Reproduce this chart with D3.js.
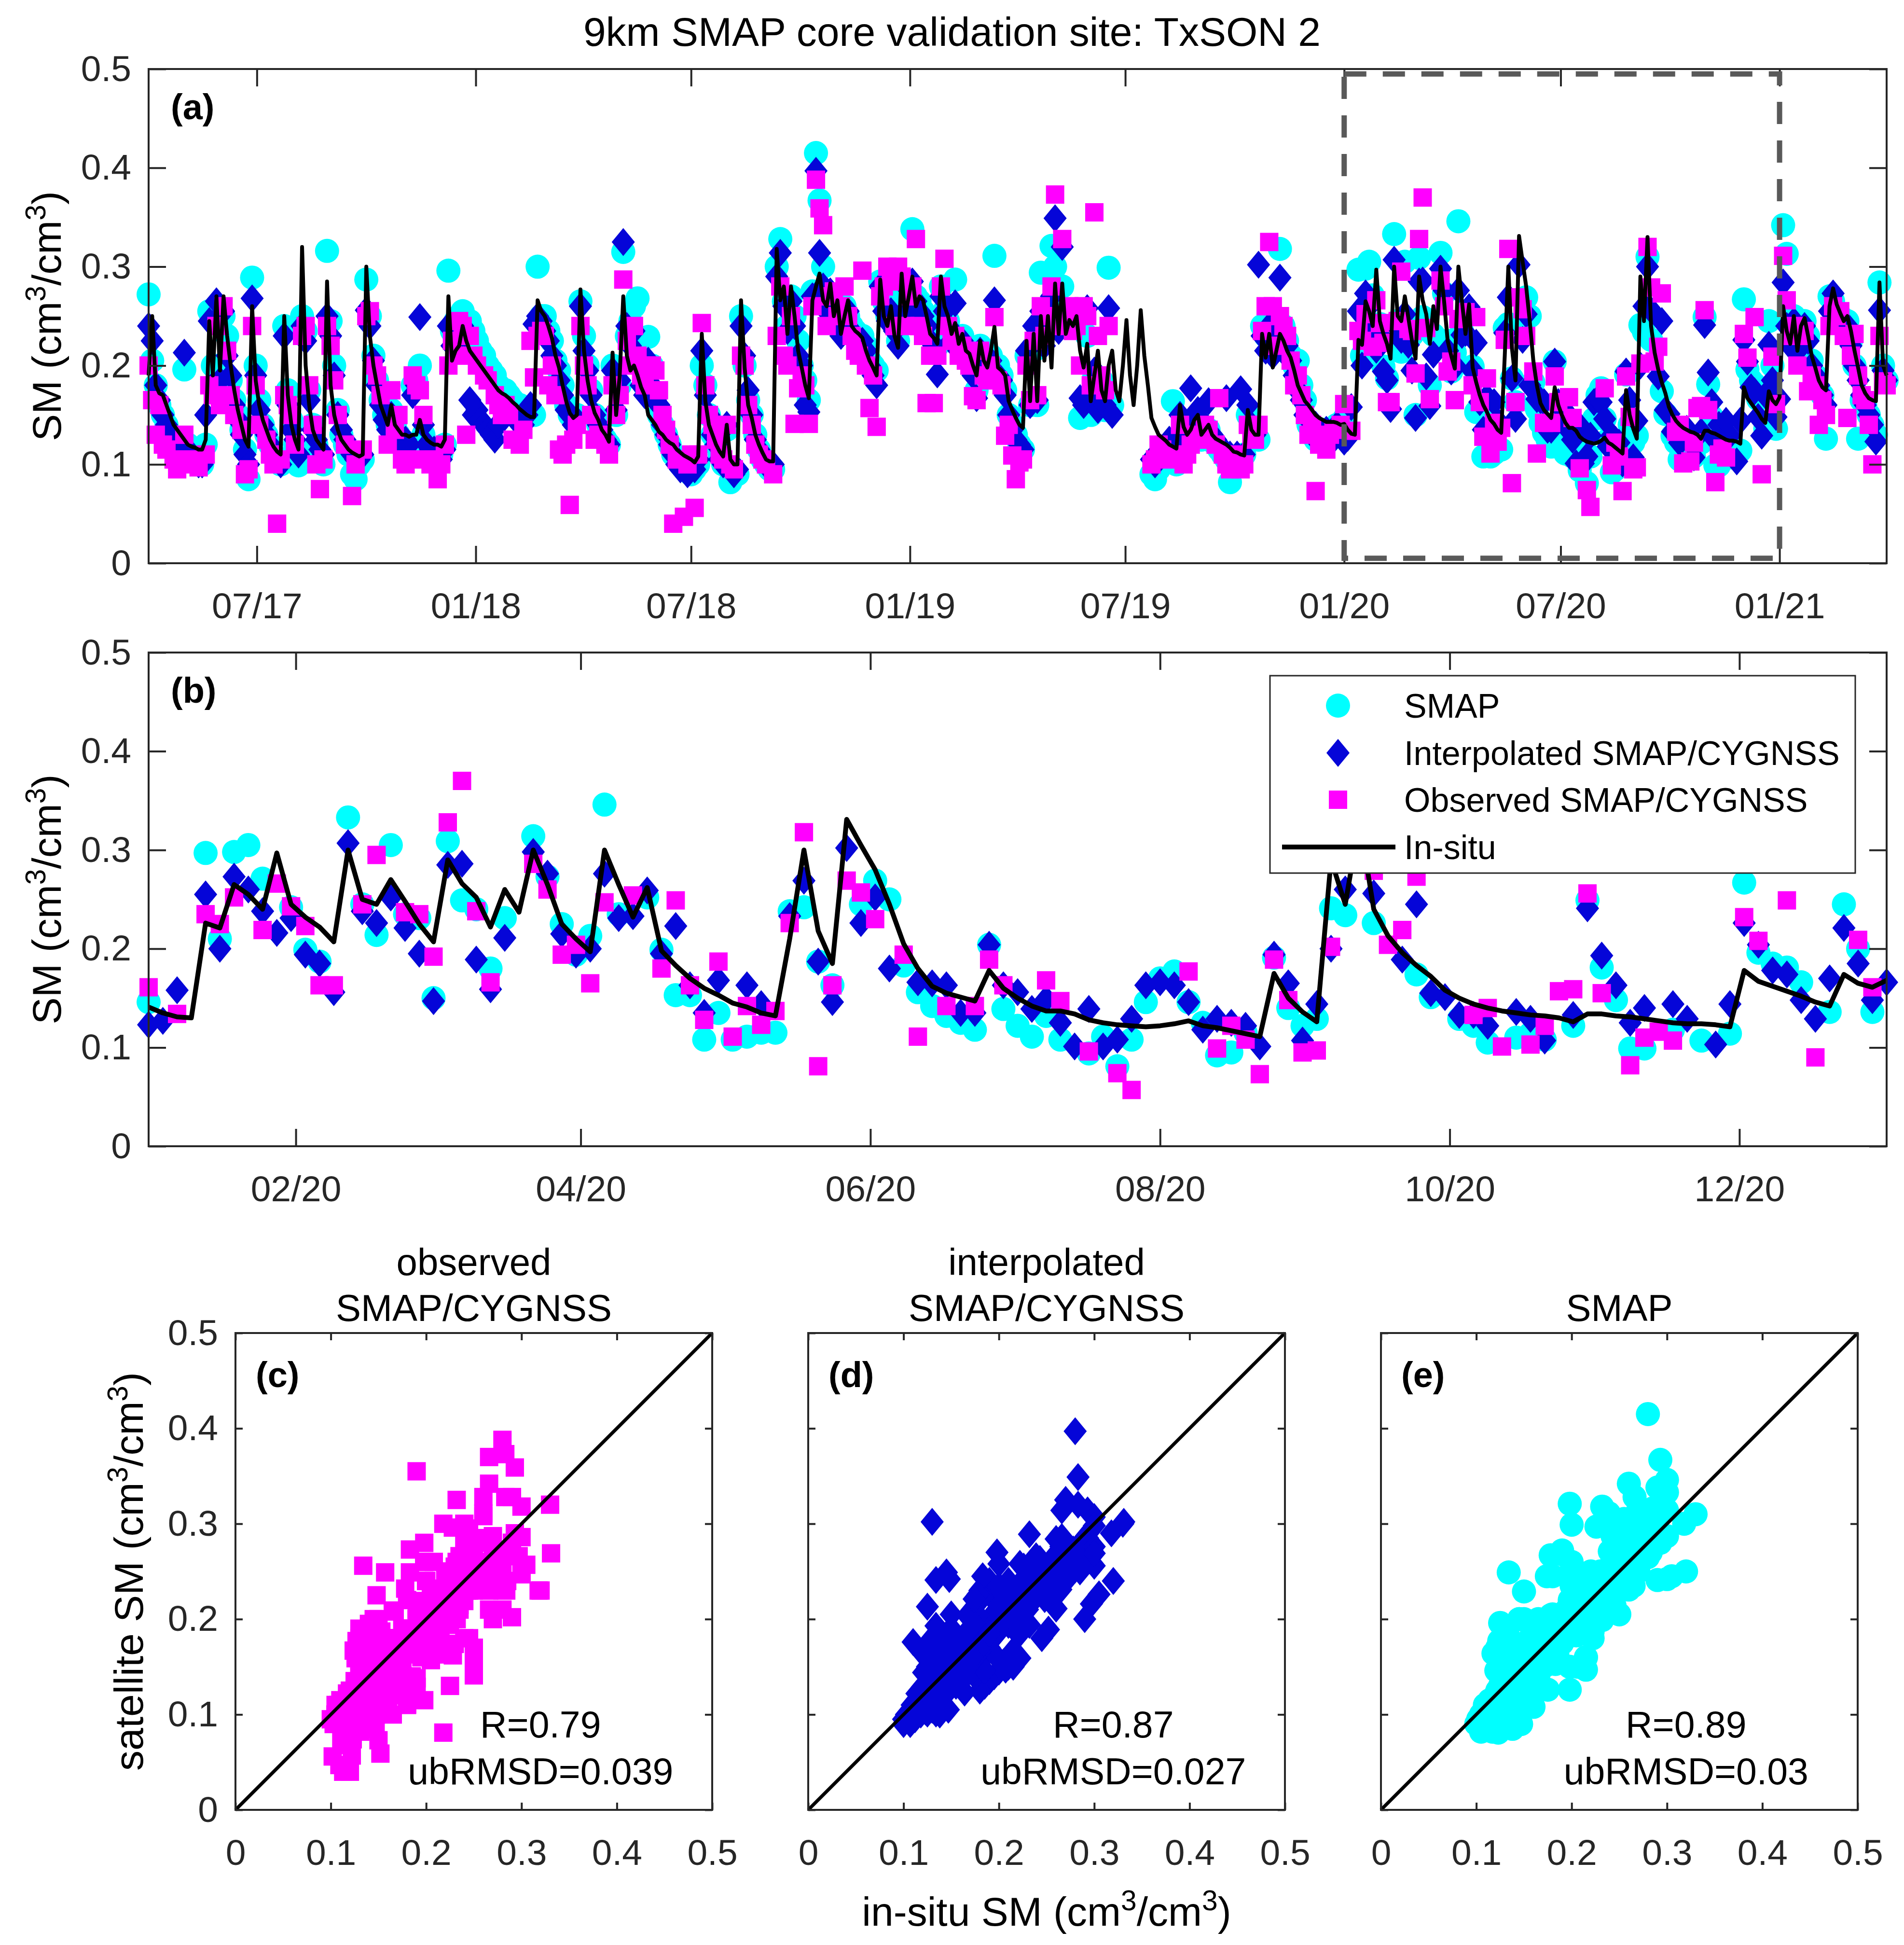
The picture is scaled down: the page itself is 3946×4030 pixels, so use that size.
<!DOCTYPE html>
<html>
<head>
<meta charset="utf-8">
<script src="https://cdn.jsdelivr.net/npm/d3@7"></script>
<style>
  html, body { margin: 0; padding: 0; background: #fff; }
  svg { display: block; }
</style>
</head>
<body>
<div id="fig"></div>
<script>
// one sample every 3 days from 2017-04-01, soil moisture in 1/1000 cm3/cm3
const startDate = "2017-04-01";
const stepDays = 3;

const insitu = [
190,250,180,172,170,160,150,140,135,130, 125,120,118,117,115,115,125,245,190,270,
195,270,230,200,175,155,140,125,118,260, 185,160,145,135,125,118,113,110,250,170,
140,125,115,320,200,160,135,125,120,115, 285,180,150,135,125,120,115,112,110,108,
110,300,230,200,180,160,150,140,160,140, 135,130,130,128,130,130,145,130,125,122,
120,120,118,125,270,205,215,220,240,225, 215,210,205,200,195,190,185,180,175,172,
170,167,163,160,156,153,150,148,148,266, 255,250,240,228,210,198,180,164,152,147,
150,277,215,185,165,152,145,135,130,123, 213,150,190,270,210,195,200,190,178,170,
150,145,140,133,130,125,122,120,115,112, 109,107,105,102,108,232,164,140,130,120,
113,108,140,105,100,100,266,198,160,147, 130,120,112,105,103,103,318,266,280,232,
280,250,215,198,180,167,266,280,293,266, 260,283,250,266,232,250,266,240,235,232,
228,215,205,198,190,287,250,240,260,230, 218,293,250,270,290,260,270,266,250,232,
228,222,290,260,250,232,243,222,232,215, 212,200,190,225,205,198,215,239,198,195,
190,164,155,147,140,137,225,164,232,164, 250,205,250,198,283,232,283,232,246,240,
250,215,198,222,164,190,215,175,164,200, 215,175,164,200,246,190,160,200,256,210,
180,147,138,130,127,124,120,118,116,160, 138,130,135,145,150,130,135,140,130,126,
124,122,120,117,113,112,110,109,155,135, 130,130,232,208,232,198,215,232,225,215,
208,195,180,172,164,160,155,150,147,145, 143,143,143,142,140,141,135,131,130,226,
221,265,255,240,297,245,232,222,207,300, 250,245,270,248,225,207,290,266,252,222,
260,237,300,265,225,210,197,300,265,232, 262,198,183,170,160,153,145,141,135,132,
210,300,218,185,331,305,280,245,205,180, 162,155,151,147,178,160,150,142,137,137,
134,128,125,123,122,121,122,124,127,122, 120,117,114,111,175,150,136,126,290,245,
330,240,213,196,183,172,158,150,144,140, 137,135,133,132,130,126,134,134,132,131,
129,127,125,124,124,123,121,178,167,162, 157,152,146,142,174,165,161,168,260,235,
222,250,215,240,248,230,210,198,185,178, 175,260,278,262,253,245,250,235,215,198,
180,172,167,165,164,284,200,190
];

const smap = [
272,205,180,160,150,140,130,125,115,110, 196,120,115,110,105,100,120,255,200,260,
200,250,230,185,165,150,135,115,85,289, 200,165,140,130,120,110,105,100,240,175,
145,120,99,250,235,175,140,120,105,100, 316,245,200,155,130,120,110,90,85,100,
105,287,250,210,185,165,150,140,155,140, 130,125,120,115,180,185,200,130,120,115,
115,110,110,120,296,235,245,250,255,240, 245,235,225,215,210,200,195,190,180,175,
175,170,165,160,160,155,152,150,150,300, 250,250,235,225,205,195,180,160,150,145,
150,265,230,200,175,150,140,130,125,120, 200,150,180,315,230,245,260,268,200,180,
229,200,170,150,140,130,120,110,105,100, 100,95,90,95,100,200,180,150,130,120,
110,100,135,82,90,90,250,200,165,150, 130,115,105,100,95,95,300,328,265,240,
270,250,225,200,185,165,275,415,367,300, 260,270,265,255,250,260,250,240,235,230,
230,220,205,200,195,285,265,250,260,245, 225,280,255,265,338,270,265,255,240,230,
225,220,280,255,245,230,287,225,230,215, 210,195,175,220,200,190,210,311,200,190,
175,150,140,130,120,115,210,160,215,160, 294,240,260,321,300,250,280,240,250,245,
250,147,150,230,150,190,160,185,155,299, 160,null,null,null,null,null,null,null,null,null,
null,90,85,95,100,105,110,164,100,120, 130,125,130,140,145,125,130,135,125,120,
115,110,105,82,100,105,100,110,150,140, 130,125,240,230,245,220,235,318,240,225,
210,200,205,180,165,140,130,125,130,135, 130,125,130,140,135,146,null,null,null,297,
210,298,305,271,null,242,199,187,null,333, 245,214,305,235,231,150,309,249,240,180,
231,null,314,273,225,194,213,346,235,null, 252,199,153,153,108,135,108,111,115,115,
238,242,187,163,null,245,269,250,183,156, 142,132,125,118,204,139,122,111,132,108,
null,94,111,81,108,146,170,177,146,125, 92,95,115,null,191,140,122,129,241,234,
310,226,null,null,174,151,null,129,122,105, null,110,114,108,null,122,249,181,148,99,
99,null,118,null,107,null,114,267,196,185, 181,166,null,136,245,200,136,null,342,313,
240,250,225,235,245,230,205,190,175,170, 126,270,265,255,250,240,245,225,200,126,
165,160,150,140,130,284,200,185
];

const interp = [
240,225,180,165,150,140,130,120,110,105, 213,115,110,105,100,100,150,245,180,265,
185,255,210,190,160,145,130,110,100,268, 190,155,140,130,120,110,105,100,230,160,
135,125,110,240,225,165,135,125,115,110, 250,230,190,150,135,125,115,110,105,105,
110,256,240,205,180,160,145,135,150,135, 130,120,125,120,170,180,249,140,120,115,
115,110,105,115,240,220,225,235,240,230, 165,150,155,145,140,135,130,125,140,145,
150,155,150,145,140,140,150,160,242,250, 245,235,225,210,200,185,170,155,150,140,
145,260,215,195,170,150,140,135,125,120, 195,155,185,325,240,220,235,200,180,170,
205,180,165,160,140,130,120,110,100,95, 100,90,95,95,105,215,170,150,130,120,
105,100,140,95,90,95,240,210,175,150, 125,115,110,100,95,100,290,314,260,235,
265,240,210,200,160,153,270,397,314,280, 255,275,245,260,230,245,255,235,225,220,
225,215,200,190,180,280,255,245,255,235, 220,285,250,260,285,265,255,250,240,225,
220,191,270,255,240,225,263,215,225,210, 205,190,167,215,195,190,205,266,190,185,
170,150,135,125,120,115,215,160,240,165, 255,220,245,270,349,235,320,240,245,240,
245,167,160,258,165,195,155,180,160,258, 150,null,null,null,null,null,null,null,null,null,
null,105,100,110,115,120,125,120,115,150, 140,130,177,150,155,135,140,164,130,125,
120,115,167,110,105,110,176,110,160,140, 130,302,230,215,240,210,225,289,235,220,
205,190,175,165,150,145,130,140,125,130, 135,130,125,140,135,123,127,158,null,255,
200,273,260,238,216,231,194,185,156,307, 238,226,252,221,195,147,285,286,189,159,
211,null,298,276,215,194,200,276,231,233, 259,195,223,163,135,168,null,163,144,null,
233,269,187,146,302,226,252,180,null,166, 165,163,135,135,204,163,156,139,149,125,
101,139,101,108,129,163,166,163,146,118, 129,125,122,101,194,165,107,144,200,260,
300,256,null,189,245,155,151,133,133,122, null,136,129,107,null,133,241,193,163,125,
140,null,144,129,null,103,144,226,204,178, 174,148,129,170,221,185,148,166,284,240,
220,245,215,235,240,225,200,190,180,170, 160,255,273,255,245,235,240,220,200,185,
170,160,150,140,123,256,195,185
];

const observed = [
200,165,130,160,120,115,null,105,95,null, 130,105,null,100,97,null,110,180,170,240,
160,260,215,170,150,null,135,90,95,240, 180,140,null,125,110,100,40,105,170,160,
150,120,null,230,240,180,140,100,75,105, 240,220,185,150,null,120,null,68,100,null,
115,250,255,200,190,170,null,120,175,135, 150,105,100,105,190,180,175,150,105,100,
105,85,100,120,200,225,210,245,240,130, 230,210,200,null,190,185,null,170,160,150,
160,150,125,null,120,135,null,225,188,230, 235,230,180,200,170,115,110,120,59,125,
140,240,200,180,150,125,130,null,120,110, 180,150,170,287,225,200,240,210,190,180,
200,200,195,175,150,135,120,40,105,null, 47,100,110,56,110,243,180,150,140,125,
110,105,140,100,95,null,210,200,160,140, 120,110,105,100,null,90,230,280,210,200,
250,141,177,190,180,141,260,388,359,342, 240,270,275,250,260,280,250,230,215,210,
296,200,157,190,138,270,280,300,285,240, 300,290,240,270,280,328,240,230,162,210,
162,210,280,308,240,225,230,210,220,205, 200,169,165,215,190,185,200,249,185,180,
129,140,109,85,102,105,200,165,225,170, 260,230,250,280,373,240,328,250,260,235,
240,200,260,250,180,355,230,190,175,240, null,null,null,null,null,null,null,null,null,null,
null,100,105,120,115,null,105,110,null,140, 100,110,120,130,null,125,140,135,null,120,
167,110,100,95,null,110,95,100,140,125, 125,140,235,260,325,260,220,250,240,230,
205,180,190,170,150,130,140,73,120,125, 115,130,135,null,140,161,null,134,null,235,
225,252,null,219,266,243,223,163,163,null, 245,295,null,237,235,192,328,370,238,166,
null,null,286,260,194,204,165,247,null,254, null,180,249,163,128,187,111,142,123,137,
226,318,81,163,269,257,230,null,194,111, null,142,null,142,189,163,null,null,168,147,
null,96,null,74,57,null,null,null,177,null, 99,122,108,73,189,148,95,97,202,null,
320,279,204,219,273,null,null,null,133,140, 101,null,103,122,157,159,256,155,null,82,
110,116,107,null,null,null,null,232,208,null, 249,null,90,null,null,209,161,null,311,266,
230,240,200,230,235,174,190,180,140,165, 150,240,260,250,255,230,147,210,232,190,
170,165,140,100,null,230,184,180
];

const ticksA = ["2017-07-01", "2018-01-01", "2018-07-01", "2019-01-01", "2019-07-01", "2020-01-01", "2020-07-01", "2021-01-01"];
const ticksB = ["2020-02-01", "2020-04-01", "2020-06-01", "2020-08-01", "2020-10-01", "2020-12-01"];
const ticksSM = [0, 0.1, 0.2, 0.3, 0.4, 0.5];
const statR = ["0.79", "0.87", "0.89"];
const statUb = ["0.039", "0.027", "0.03"];

const W = 3946, H = 4030;
const FONT = '"Liberation Sans", Arial, Helvetica, sans-serif';
const INK = "#262626";
const parse = d3.utcParse("%Y-%m-%d");
const t0 = parse(startDate);
const fmtSM = d => d === 0 ? "0" : d3.format(".1f")(d);

const rows = insitu.map((v, i) => ({
  date: d3.utcDay.offset(t0, i * stepDays),
  insitu: v / 1000,
  smap: smap[i] == null ? null : smap[i] / 1000,
  interp: interp[i] == null ? null : interp[i] / 1000,
  observed: observed[i] == null ? null : observed[i] / 1000
}));

const series = [
  { key: "smap", name: "SMAP", color: "#00ffff", shape: "circle" },
  { key: "interp", name: "Interpolated SMAP/CYGNSS", color: "#0505d8", shape: "diamond" },
  { key: "observed", name: "Observed SMAP/CYGNSS", color: "#ff00ff", shape: "square" }
];

const svg = d3.select("#fig").append("svg")
  .attr("width", W).attr("height", H)
  .attr("font-family", FONT);
svg.append("rect").attr("width", W).attr("height", H).attr("fill", "#fff");

// filled markers, no edge
function drawMarks(g, pts, shape, color, px, py) {
  if (shape === "circle") {
    g.selectAll(null).data(pts).join("circle")
      .attr("cx", px).attr("cy", py).attr("r", 25).attr("fill", color);
  } else if (shape === "square") {
    g.selectAll(null).data(pts).join("rect")
      .attr("x", d => px(d) - 19).attr("y", d => py(d) - 19)
      .attr("width", 38).attr("height", 38).attr("fill", color);
  } else {
    g.selectAll(null).data(pts).join("path")
      .attr("d", d => `M${px(d)},${py(d) - 29}l24,29l-24,29l-24,-29z`)
      .attr("fill", color);
  }
}

// box with inward ticks on the four sides
function frame(g, x, y, xTicks, xFmt, yTicks, yFmt, tick) {
  const [xa, xb] = x.range();
  const [yb, ya] = y.range();
  const axes = [
    g.append("g").attr("transform", `translate(0,${yb})`)
      .call(d3.axisBottom(x).tickValues(xTicks).tickFormat(xFmt).tickSizeInner(-tick).tickSizeOuter(0).tickPadding(61)),
    g.append("g").attr("transform", `translate(0,${ya})`)
      .call(d3.axisTop(x).tickValues(xTicks).tickFormat("").tickSizeInner(-tick).tickSizeOuter(0)),
    g.append("g").attr("transform", `translate(${xa},0)`)
      .call(d3.axisLeft(y).tickValues(yTicks).tickFormat(yFmt || "").tickSizeInner(-tick).tickSizeOuter(0).tickPadding(36)),
    g.append("g").attr("transform", `translate(${xb},0)`)
      .call(d3.axisRight(y).tickValues(yTicks).tickFormat("").tickSizeInner(-tick).tickSizeOuter(0))
  ];
  axes.forEach(a => {
    a.attr("font-size", 75).attr("font-family", FONT);
    a.select(".domain").remove();
    a.selectAll(".tick line").attr("stroke", INK).attr("stroke-width", 4);
    a.selectAll(".tick text").attr("fill", INK);
  });
  g.append("rect").attr("x", xa).attr("y", ya).attr("width", xb - xa).attr("height", yb - ya)
    .attr("fill", "none").attr("stroke", INK).attr("stroke-width", 4);
}

function smText(sel, prefix) {
  sel.append("tspan").text(prefix + " (cm");
  sel.append("tspan").attr("baseline-shift", "super").attr("font-size", "70%").text("3");
  sel.append("tspan").text("/cm");
  sel.append("tspan").attr("baseline-shift", "super").attr("font-size", "70%").text("3");
  sel.append("tspan").text(")");
}

function timePanel(x0, y0, w, h, domain, tickDates, lineWidth, label) {
  const g = svg.append("g");
  const x = d3.scaleUtc().domain(domain).range([x0, x0 + w]);
  const y = d3.scaleLinear().domain([0, 0.5]).range([y0 + h, y0]);
  const data = rows.filter(d => d.date >= domain[0] && d.date <= domain[1]);

  series.forEach(s => {
    drawMarks(g.append("g"), data.filter(d => d[s.key] != null), s.shape, s.color,
      d => x(d.date), d => y(d[s.key]));
  });

  g.append("path").datum(data)
    .attr("fill", "none").attr("stroke", "#000").attr("stroke-width", lineWidth)
    .attr("stroke-linejoin", "round")
    .attr("d", d3.line().x(d => x(d.date)).y(d => y(d.insitu)));

  frame(g, x, y, tickDates.map(parse), d3.utcFormat("%m/%y"), ticksSM, fmtSM, 36);

  g.append("text").attr("x", x0 + 46).attr("y", y0 + 104)
    .attr("font-size", 74).attr("font-weight", "bold").attr("fill", "#000").text(label);

  const yl = g.append("text")
    .attr("transform", `translate(126,${y0 + h / 2}) rotate(-90)`)
    .attr("text-anchor", "middle").attr("font-size", 84).attr("fill", "#000");
  smText(yl, "SM");
  return { g, x, y };
}

// (a) whole record
const pa = timePanel(308, 143, 3602, 1024, [parse("2017-04-01"), parse("2021-04-01")], ticksA, 8, "(a)");
pa.g.append("rect")
  .attr("x", pa.x(parse("2020-01-01"))).attr("y", pa.y(0.495))
  .attr("width", pa.x(parse("2021-01-01")) - pa.x(parse("2020-01-01")))
  .attr("height", pa.y(0.005) - pa.y(0.495))
  .attr("fill", "none").attr("stroke", "#595959").attr("stroke-width", 11)
  .attr("stroke-dasharray", "46,34");

// (b) year 2020
timePanel(308, 1352, 3602, 1023, [parse("2020-01-01"), parse("2021-01-01")], ticksB, 10, "(b)");

// legend of (b)
const lg = svg.append("g");
lg.append("rect").attr("x", 2632).attr("y", 1400).attr("width", 1213).attr("height", 409)
  .attr("fill", "#fff").attr("stroke", INK).attr("stroke-width", 3);
const legendY = [1462, 1560, 1657, 1755];
series.forEach((s, i) => {
  const cy = legendY[i];
  drawMarks(lg.append("g"), [0], s.shape, s.color, () => 2773, () => cy);
  lg.append("text").attr("x", 2910).attr("y", cy).attr("dy", "0.35em")
    .attr("font-size", 70).attr("fill", "#000").text(s.name);
});
lg.append("line").attr("x1", 2657).attr("x2", 2892).attr("y1", legendY[3]).attr("y2", legendY[3])
  .attr("stroke", "#000").attr("stroke-width", 10);
lg.append("text").attr("x", 2910).attr("y", legendY[3]).attr("dy", "0.35em")
  .attr("font-size", 70).attr("fill", "#000").text("In-situ");

// main title
svg.append("text").attr("x", 1973).attr("y", 95).attr("text-anchor", "middle")
  .attr("font-size", 84).attr("fill", "#000")
  .text("9km SMAP core validation site: TxSON 2");

// (c) (d) (e) scatter against in-situ
const scatters = [
  { s: series[2], x0: 488, title: ["observed", "SMAP/CYGNSS"], label: "(c)" },
  { s: series[1], x0: 1675, title: ["interpolated", "SMAP/CYGNSS"], label: "(d)" },
  { s: series[0], x0: 2862, title: ["SMAP"], label: "(e)" }
];
const sy0 = 2762, size = 988;
scatters.forEach((p, k) => {
  const g = svg.append("g");
  const xs = d3.scaleLinear().domain([0, 0.5]).range([p.x0, p.x0 + size]);
  const ys = d3.scaleLinear().domain([0, 0.5]).range([sy0 + size, sy0]);
  const pts = rows.filter(d => d[p.s.key] != null);
  drawMarks(g.append("g"), pts, p.s.shape, p.s.color, d => xs(d.insitu), d => ys(d[p.s.key]));
  g.append("line").attr("x1", xs(0)).attr("y1", ys(0)).attr("x2", xs(0.5)).attr("y2", ys(0.5))
    .attr("stroke", "#000").attr("stroke-width", 7);
  frame(g, xs, ys, ticksSM, fmtSM, ticksSM, k === 0 ? fmtSM : null, 15);

  p.title.forEach((t, j) => {
    g.append("text").attr("x", p.x0 + size / 2)
      .attr("y", 2737 - (p.title.length - 1 - j) * 95)
      .attr("text-anchor", "middle").attr("font-size", 78).attr("fill", "#000").text(t);
  });
  g.append("text").attr("x", p.x0 + 42).attr("y", sy0 + 112)
    .attr("font-size", 74).attr("font-weight", "bold").attr("fill", "#000").text(p.label);
  g.append("text").attr("x", xs(0.32)).attr("y", ys(0.076)).attr("text-anchor", "middle")
    .attr("font-size", 77).attr("fill", "#000").text("R=" + statR[k]);
  g.append("text").attr("x", xs(0.32)).attr("y", ys(0.027)).attr("text-anchor", "middle")
    .attr("font-size", 77).attr("fill", "#000").text("ubRMSD=" + statUb[k]);
});

const syl = svg.append("text")
  .attr("transform", `translate(296,${sy0 + size / 2}) rotate(-90)`)
  .attr("text-anchor", "middle").attr("font-size", 84).attr("fill", "#000");
smText(syl, "satellite SM");

const sxl = svg.append("text").attr("x", 1675 + size / 2).attr("y", 3990)
  .attr("text-anchor", "middle").attr("font-size", 84).attr("fill", "#000");
smText(sxl, "in-situ SM");
</script>
</body>
</html>
